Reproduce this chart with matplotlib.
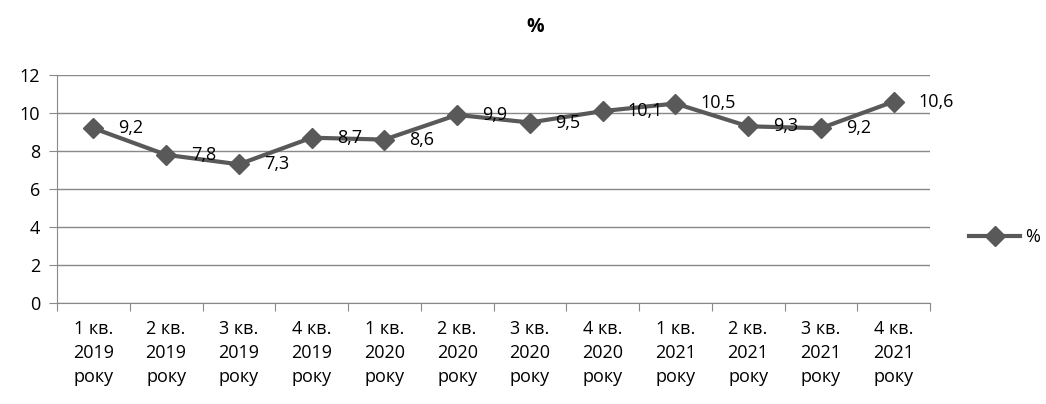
import numpy as np
import matplotlib
matplotlib.use('Agg')
import matplotlib.pyplot as plt
from matplotlib.ticker import FixedLocator

quarters = ["1 кв.", "2 кв.", "3 кв.", "4 кв."] * 3
years = ["2019"] * 4 + ["2020"] * 4 + ["2021"] * 4
values = [9.2, 7.8, 7.3, 8.7, 8.6, 9.9, 9.5, 10.1, 10.5, 9.3, 9.2, 10.6]
labels = [q + "\n" + y + "\nроку" for q, y in zip(quarters, years)]

plt.rcParams['font.family'] = ['Open Sans', 'DejaVu Sans']
LINE = "#595959"
GRID = "#898989"

fig = plt.figure(figsize=(10.46, 4.04), dpi=100)
ax = fig.add_axes([57 / 1046, 1 - 303 / 404, (930 - 57) / 1046, (303 - 75) / 404])

x = np.arange(len(values))
line, = ax.plot(x, values, color=LINE, lw=3, marker="D", markersize=10,
                markerfacecolor=LINE, markeredgecolor=LINE, label="%", zorder=3)

for xi, v in zip(x, values):
    ax.annotate(f"{v:.1f}".replace(".", ","), (xi, v), xytext=(18, 0),
                textcoords="offset points", fontsize=13, va="center", ha="left")

ax.set_xlim(-0.5, len(values) - 0.5)
ax.set_ylim(0, 12)
ax.set_yticks(range(0, 13, 2))
ax.yaxis.grid(True, color=GRID, lw=1)
ax.set_axisbelow(True)

ax.xaxis.set_major_locator(FixedLocator(np.arange(-0.5, len(values), 1.0)))
ax.xaxis.set_minor_locator(FixedLocator(x))
ax.set_xticklabels([""] * (len(values) + 1))
ax.set_xticklabels(labels, minor=True, fontsize=13, linespacing=1.45)
ax.tick_params(axis="x", which="major", length=6, color=GRID, direction="out")
ax.tick_params(axis="x", which="minor", length=0, pad=12)
ax.tick_params(axis="y", length=6, color=GRID, labelsize=13, pad=6)

for side in ("top", "right"):
    ax.spines[side].set_visible(False)
for side in ("left", "bottom"):
    ax.spines[side].set_color(GRID)

fig.text(535 / 1046, 1 - 27 / 404, "%", ha="center", va="center",
         fontsize=14, fontweight="bold")

fig.legend(handles=[line], loc="center left", bbox_to_anchor=(953 / 1046, 1 - 237 / 404),
           frameon=False, fontsize=13, handlelength=2.8, handletextpad=0.3)

fig.savefig("out.png", dpi=100)
